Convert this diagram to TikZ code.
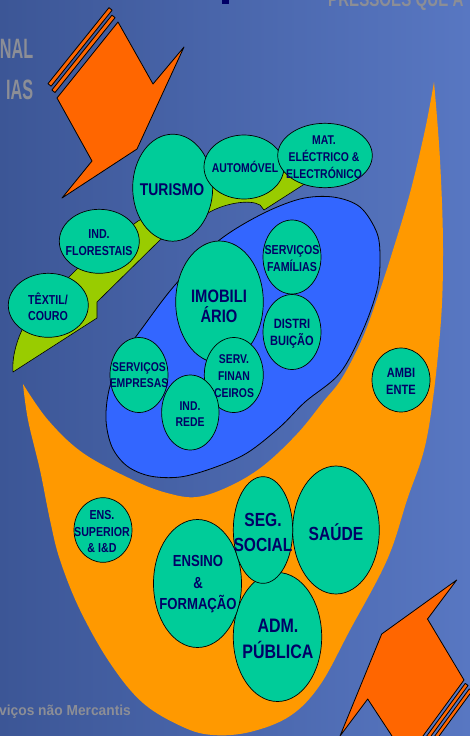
\documentclass[tikz,border=0pt]{standalone}
\usepackage{fontspec}
\setmainfont{Liberation Sans}
\newfontfamily\lblfont{Liberation Sans}[FakeStretch=0.82]
\newfontfamily\gryfont{Liberation Sans}[FakeStretch=0.58]
\newfontfamily\gryfontb{Liberation Sans}[FakeStretch=0.72]
\newfontfamily\gryfontc{Liberation Sans}[FakeStretch=0.95]
\usetikzlibrary{shapes.geometric}
\definecolor{bgL}{RGB}{60,86,150}
\definecolor{bgR}{RGB}{88,119,194}
\definecolor{bubgreen}{RGB}{0,204,153}
\definecolor{navytxt}{RGB}{0,0,102}
\definecolor{limeband}{RGB}{153,204,0}
\definecolor{uorange}{RGB}{255,153,0}
\definecolor{arroworange}{RGB}{255,102,0}
\definecolor{coreblue}{RGB}{51,102,255}
\definecolor{graytxt}{RGB}{140,142,150}
\newcommand\bsz[2]{\lblfont\bfseries\fontsize{#1}{#2}\selectfont}
\tikzset{
  bub/.style={ellipse, draw=black, line width=0.7pt, fill=bubgreen, inner sep=0pt},
  btxt/.style={text=navytxt, align=center, inner sep=0pt},
  graylbl/.style={text=graytxt, inner sep=0pt},
  arrowshape/.style={fill=arroworange, draw=black, line width=0.8pt, line join=round},
}
\begin{document}
\begin{tikzpicture}[x=1pt,y=-1pt]
\useasboundingbox (0,0) rectangle (470,736);
\begin{scope}
\clip (0,0) rectangle (470,736);
% background
\shade[left color=bgL, right color=bgR] (0,0) rectangle (470,736);

% gray title fragments
\node[graylbl, font=\gryfont\bfseries\fontsize{28}{28}\selectfont, anchor=base east] (nal) at (33.5,58.5) {NAL};
\node[graylbl, font=\gryfont\bfseries\fontsize{28}{28}\selectfont, anchor=base east] (ias) at (33.5,99.5) {IAS};
\node[graylbl, font=\gryfontb\bfseries\fontsize{21}{21}\selectfont, anchor=base west] (press) at (328,6.5) {PRESSÕES QUE A};
\node[graylbl, font=\gryfontc\bfseries\fontsize{14.5}{15}\selectfont, anchor=base west] (merc) at (-1,715) {viços não Mercantis};
\fill[navytxt] (222,0) rectangle (228.5,4);

% orange U region
\fill[uorange] (434,82) -- plot[smooth, tension=0.6] coordinates {(434,82) (440,160) (443,250) (440,333) (427,437) (407,500) (387,560) (350,630) (320,685) (290,716) (250,732) (213,735) (183,727) (143,703) (110,663) (80,610) (60,560) (50,520) (40,470) (28,420) (23,384)}
  -- plot[smooth, tension=0.6] coordinates {(23,384) (48,420) (83,453) (133,480) (167,493) (197,497) (230,486) (263,466) (297,434) (323,402) (342,378) (363,337) (380,290) (393,250) (410,193) (425,130) (434,82)} -- cycle;

% lime band
\draw[fill=limeband, line width=0.6pt, line join=round] (13,372) -- (97,318) -- (97,302) -- (160,240) -- (208,213)
  .. controls (225,203) and (250,199) .. (260,205) -- (264,210) -- (303,185) -- (312,172) -- (275,172) -- (215,182)
  -- (170,205) -- (138,221) -- (100,250) -- (78,268) -- (68,278) -- (40,300) -- (22,330)
  .. controls (15,345) and (12,360) .. (13,372) -- cycle;

% blue core region
\draw[fill=coreblue, line width=0.8pt] plot[smooth cycle, tension=0.55] coordinates {(300,199) (333,197) (360,207) (377,233) (380,260) (377,290) (363,330) (340,373) (305,402) (280,427) (247,453) (213,468) (180,477) (150,476) (127,466) (112,447) (106,420) (109,390) (120,360) (143,327) (175,285) (217,242) (260,215)};

% bubbles
\node[bub, minimum width=80pt, minimum height=107pt] (turismo) at (172.7,187.7) {};
\node[bub, minimum width=80pt, minimum height=64pt] (auto) at (244,167) {};
\node[bub, minimum width=94.6pt, minimum height=64.4pt] (mat) at (325,155.5) {};
\node[bub, minimum width=80pt, minimum height=64pt] (flor) at (99.3,241.3) {};
\node[bub, minimum width=80pt, minimum height=64pt] (textil) at (48.3,305.3) {};
\node[bub, minimum width=87.6pt, minimum height=122pt] (imob) at (219.5,302) {};
\node[bub, minimum width=58pt, minimum height=74pt] (sfam) at (292,257) {};
\node[bub, minimum width=58pt, minimum height=75pt] (dist) at (292,332) {};
\node[bub, minimum width=58pt, minimum height=75pt] (semp) at (139,375) {};
\node[bub, minimum width=59pt, minimum height=75pt] (fin) at (233.8,375) {};
\node[bub, minimum width=57.4pt, minimum height=75pt] (rede) at (190.3,412.5) {};
\node[bub, minimum width=58pt, minimum height=64pt] (amb) at (401,380) {};
\node[bub, minimum width=58pt, minimum height=64.6pt] (enssup) at (103,530) {};
\node[bub, minimum width=86.6pt, minimum height=128pt] (saude) at (336,530) {};
\node[bub, minimum width=88.4pt, minimum height=129pt] (adm) at (277.5,637) {};
\node[bub, minimum width=88pt, minimum height=128pt] (ensino) at (197.5,583.5) {};
\node[bub, minimum width=59.4pt, minimum height=106.7pt] (seg) at (263,530) {};

% bubble texts
\node[btxt, font=\bsz{17}{20}] (turismo-t) at (172,189.3) {TURISMO};
\node[btxt, font=\bsz{12.7}{16}] (auto-t) at (245,166.7) {AUTOMÓVEL};
\node[btxt, font=\bsz{12.7}{16.8}] (mat-t) at (324,157.3) {MAT.\\ELÉCTRICO \&\\ELECTRÓNICO};
\node[btxt, font=\bsz{13}{16.7}] (flor-t) at (99,242.7) {IND.\\FLORESTAIS};
\node[btxt, font=\bsz{13}{16.7}] (textil-t) at (48,306.7) {TÊXTIL/\\COURO};
\node[btxt, font=\bsz{18}{20.7}] (imob-t) at (219,306.3) {IMOBILI\\ÁRIO};
\node[btxt, font=\bsz{13}{16.7}] (sfam-t) at (292,258.3) {SERVIÇOS\\FAMÍLIAS};
\node[btxt, font=\bsz{13.5}{16.7}] (dist-t) at (292,333.7) {DISTRI\\BUIÇÃO};
\node[btxt, font=\bsz{12.7}{16.7}] (semp-t) at (139,375) {SERVIÇOS\\EMPRESAS};
\node[btxt, font=\bsz{12.7}{17}] (fin-t) at (234,376.3) {SERV.\\FINAN\\CEIROS};
\node[btxt, font=\bsz{12.7}{16.3}] (rede-t) at (190,414.2) {IND.\\REDE};
\node[btxt, font=\bsz{13.5}{16.7}] (amb-t) at (401,381.7) {AMBI\\ENTE};
\node[btxt, font=\bsz{13}{16.7}] (enssup-t) at (102,531.7) {ENS.\\SUPERIOR\\\& I\&D};
\node[btxt, font=\bsz{16}{21.7}] (ensino-t) at (198,584.3) {ENSINO\\\&\\FORMAÇÃO};
\node[btxt, font=\bsz{19}{25}] (seg-t) at (263,532.5) {SEG.\\SOCIAL};
\node[btxt, font=\bsz{19}{25}] (saude-t) at (336,532) {SAÚDE};
\node[btxt, font=\bsz{19.5}{25.7}] (adm-t) at (278,638.8) {ADM.\\PÚBLICA};

% top-left arrow with stripes
\draw[arrowshape] (51.08,86.2) -- (47.96,83.69) -- (108.99,7.64) -- (112.12,10.15) -- cycle;
\draw[arrowshape] (54.98,92.53) -- (51.86,90.03) -- (111.95,15.15) -- (115.07,17.65) -- cycle;
\draw[arrowshape] (57,98) -- (118,22) -- (153,84) -- (184,47) -- (137,149) -- (62,198) -- (92,161) -- cycle;

% bottom-right arrow with stripes
\draw[arrowshape] (465.24,683.38) -- (468.07,685.45) -- (416.06,756.47) -- (413.23,754.4) -- cycle;
\draw[arrowshape] (469.31,688.84) -- (472.13,690.91) -- (421.3,760.31) -- (418.48,758.24) -- cycle;
\draw[arrowshape] (456.7,580) -- (427.5,619) -- (464,680) -- (410.8,752.6) -- (402.5,752) -- (367.7,699) -- (340,736) -- (381.7,634) -- cycle;
\end{scope}
\end{tikzpicture}
\end{document}
